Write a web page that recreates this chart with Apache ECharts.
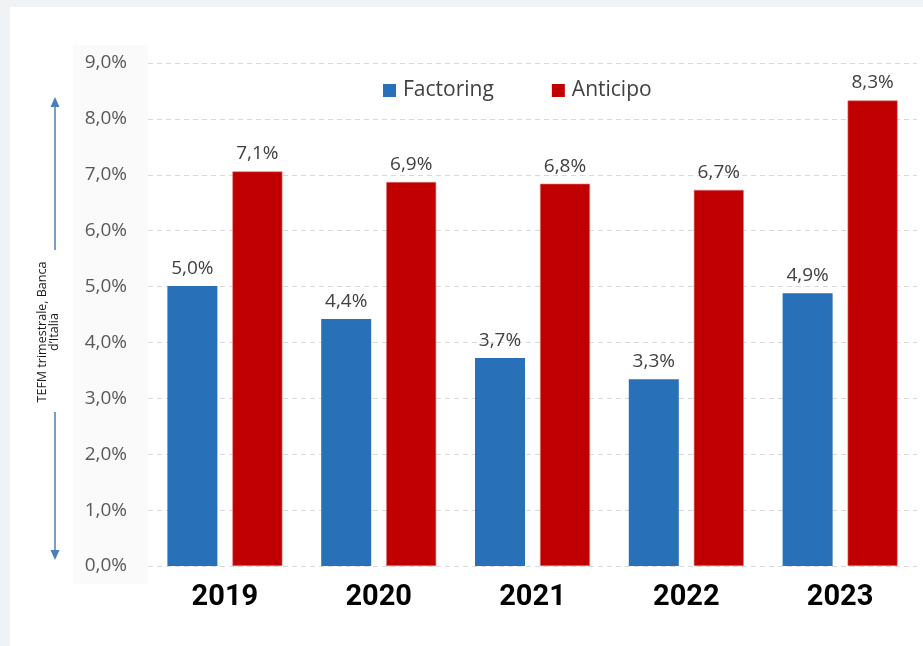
<!DOCTYPE html>
<html>
<head>
<meta charset="utf-8">
<script src="https://cdn.jsdelivr.net/npm/echarts@6/dist/echarts.min.js"></script>
<style>html,body{margin:0;padding:0;background:#eff3f6}#c{width:923px;height:646px}</style>
</head>
<body>
<div id="c"></div>
<script>
var categories = ['2019', '2020', '2021', '2022', '2023'];
var factoring = [5.01, 4.42, 3.72, 3.34, 4.88];
var anticipo = [7.06, 6.87, 6.84, 6.73, 8.33];
var yTicks = [0, 1, 2, 3, 4, 5, 6, 7, 8, 9];

function pct(v) { return v.toFixed(1).replace('.', ',') + '%'; }

var chart = echarts.init(document.getElementById('c'));
var labelStyle = {
  show: true, position: 'top', distance: 8,
  fontFamily: 'Open Sans', fontSize: 19, color: '#404040',
  formatter: function (p) { return pct(p.value); }
};
chart.setOption({
  backgroundColor: '#eff3f6',
  animation: false,
  graphic: [
    { type: 'rect', z: -10, shape: { x: 10, y: 7, width: 913, height: 639 }, style: { fill: '#ffffff' } },
    { type: 'rect', z: -9, shape: { x: 73, y: 45, width: 75, height: 539 }, style: { fill: '#fafafa' } },
    { type: 'line', shape: { x1: 55, y1: 105, x2: 55, y2: 250 }, style: { stroke: '#4a7ebb', lineWidth: 1.5 } },
    { type: 'polygon', shape: { points: [[55, 97], [50.5, 107], [59.5, 107]] }, style: { fill: '#4a7ebb' } },
    { type: 'line', shape: { x1: 55, y1: 412, x2: 55, y2: 552 }, style: { stroke: '#4a7ebb', lineWidth: 1.5 } },
    { type: 'polygon', shape: { points: [[55, 560], [50.5, 550], [59.5, 550]] }, style: { fill: '#4a7ebb' } },
    { type: 'text', x: 48, y: 332, rotation: Math.PI / 2,
      style: { text: 'TEFM trimestrale, Banca\nd\u2019Italia', align: 'center', verticalAlign: 'middle',
        font: '12.5px "Open Sans"', lineHeight: 12, fill: '#1a1a1a' } }
  ],
  legend: {
    left: 378, top: 75, itemWidth: 13, itemHeight: 13, itemGap: 58,
    icon: 'rect',
    itemStyle: { borderWidth: 0 },
    textStyle: { fontFamily: 'Open Sans', fontSize: 21, color: '#404040', padding: [0, 0, 0, 2] },
    data: ['Factoring', 'Anticipo']
  },
  grid: { left: 148, right: 6, top: 63, bottom: 80 },
  xAxis: {
    type: 'category', data: categories,
    axisLine: { show: false }, axisTick: { show: false },
    axisLabel: { fontFamily: 'Roboto', fontWeight: 'bold', fontSize: 29, color: '#000000', margin: 17 }
  },
  yAxis: {
    type: 'value', min: 0, max: 9, interval: 1,
    axisLine: { show: false }, axisTick: { show: false },
    axisLabel: { fontFamily: 'Open Sans', fontSize: 19, color: '#595959', margin: 21,
      formatter: function (v) { return yTicks.indexOf(v) >= 0 ? pct(v) : ''; } },
    splitLine: { lineStyle: { color: '#d9d9d9', type: [5, 4], width: 1 } }
  },
  series: [
    { name: 'Factoring', type: 'bar', data: factoring, barWidth: 50, barGap: '30%',
      itemStyle: { color: '#2870b8' }, label: labelStyle },
    { name: 'Anticipo', type: 'bar', data: anticipo, barWidth: 50,
      itemStyle: { color: '#c00000', borderColor: '#e07a7a', borderWidth: 0.6 }, label: labelStyle }
  ]
});
</script>
</body>
</html>
